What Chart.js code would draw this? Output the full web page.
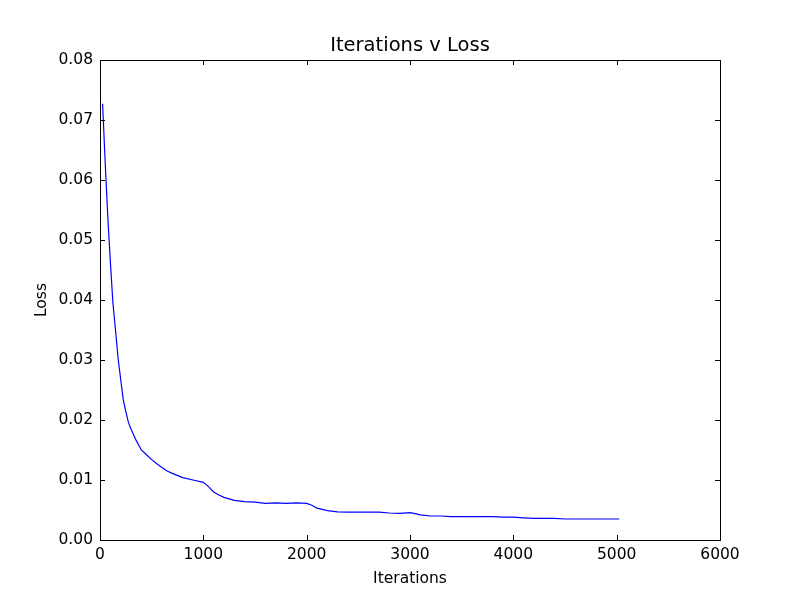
<!DOCTYPE html>
<html>
<head>
<meta charset="utf-8">
<script src="https://cdn.jsdelivr.net/npm/chart.js@4"></script>
<style>
  html, body { margin: 0; padding: 0; background: #fff; }
  #wrap { width: 800px; height: 600px; }
</style>
</head>
<body>
<div id="wrap"><canvas id="lossChart" width="800" height="600"></canvas></div>
<script>
const iterations = [25, 50, 75, 100, 125, 150, 175, 200, 225, 250, 275, 300, 350, 400, 450, 500, 550, 600, 650, 700, 800, 900,
    1000, 1050, 1100, 1150, 1200, 1300, 1400, 1500, 1600, 1700, 1800, 1900, 2000, 2050, 2100, 2200, 2300, 2400, 2500,
    2600, 2700, 2800, 2900, 3000, 3050, 3100, 3200, 3300, 3400, 3500, 3600, 3700, 3800, 3900, 4000, 4100, 4200, 4300,
    4400, 4500, 4600, 4700, 4800, 4900, 5025];
const loss = [0.0727, 0.063, 0.054, 0.0464, 0.0395, 0.035, 0.0303, 0.0268, 0.0234, 0.0214, 0.0196, 0.0185, 0.0166, 0.0150,
    0.0142, 0.0134, 0.0127, 0.0121, 0.0115, 0.0111, 0.0104, 0.0100, 0.0096, 0.0089, 0.0080, 0.0075, 0.0071, 0.0066, 0.0064,
    0.0063, 0.0061, 0.0062, 0.0061, 0.0062, 0.0061, 0.0058, 0.0053, 0.0049, 0.0047, 0.00465, 0.00467, 0.00465, 0.00465,
    0.0045, 0.00445, 0.00456, 0.0044, 0.0042, 0.0040, 0.0040, 0.0039, 0.0039, 0.0039, 0.0039, 0.0039, 0.0038, 0.0038,
    0.0037, 0.0036, 0.0036, 0.0036, 0.0035, 0.0035, 0.0035, 0.0035, 0.0035, 0.0035];
const xTicks = [0, 1000, 2000, 3000, 4000, 5000, 6000];
const yTicks = [0.00, 0.01, 0.02, 0.03, 0.04, 0.05, 0.06, 0.07, 0.08];

const FONT = 'DejaVu Sans';

// matplotlib-style frame with inward ticks on all four sides, plus title
const framePlugin = {
    id: 'frame',
    afterDraw(chart) {
        const { ctx, chartArea: a, scales } = chart;
        ctx.save();
        ctx.strokeStyle = '#000';
        ctx.lineWidth = 1;
        ctx.beginPath();
        xTicks.forEach(v => {
            const px = Math.round(scales.x.getPixelForValue(v)) + 0.5;
            ctx.moveTo(px, a.bottom); ctx.lineTo(px, a.bottom - 5);
            ctx.moveTo(px, a.top); ctx.lineTo(px, a.top + 5);
        });
        yTicks.forEach(v => {
            const py = Math.round(scales.y.getPixelForValue(v)) + 0.5;
            ctx.moveTo(a.left, py); ctx.lineTo(a.left + 5, py);
            ctx.moveTo(a.right, py); ctx.lineTo(a.right - 5, py);
        });
        ctx.stroke();
        ctx.strokeRect(a.left + 0.5, a.top + 0.5, a.right - a.left, a.bottom - a.top);

        ctx.fillStyle = '#000';
        ctx.font = '19.5px "' + FONT + '"';
        ctx.textAlign = 'center';
        ctx.textBaseline = 'middle';
        ctx.fillText('Iterations v Loss', (a.left + a.right) / 2, 46);
        ctx.restore();
    }
};

new Chart(document.getElementById('lossChart'), {
    type: 'line',
    data: {
        datasets: [{
            data: iterations.map((it, i) => ({ x: it, y: loss[i] })),
            borderColor: '#0000ff',
            borderWidth: 1.2,
            pointRadius: 0,
            tension: 0,
            fill: false
        }]
    },
    options: {
        responsive: false,
        animation: false,
        layout: { padding: { top: 60, right: 80, left: 0, bottom: 0 } },
        plugins: {
            legend: { display: false },
            tooltip: { enabled: false }
        },
        scales: {
            x: {
                type: 'linear',
                min: 0,
                max: 6000,
                afterFit(scale) { scale.height = 60; },
                afterBuildTicks(scale) { scale.ticks = xTicks.map(v => ({ value: v })); },
                grid: { display: false, drawTicks: false },
                border: { display: false },
                ticks: {
                    color: '#000',
                    padding: 6,
                    maxRotation: 0,
                    font: { family: FONT, size: 15.5 },
                    callback: v => String(v)
                },
                title: {
                    display: true,
                    text: 'Iterations',
                    color: '#000',
                    padding: { top: 12, bottom: 12 },
                    font: { family: FONT, size: 15.5 }
                }
            },
            y: {
                type: 'linear',
                min: 0,
                max: 0.08,
                afterFit(scale) { scale.width = 100; },
                afterBuildTicks(scale) { scale.ticks = yTicks.map(v => ({ value: v })); },
                grid: { display: false, drawTicks: false },
                border: { display: false },
                ticks: {
                    color: '#000',
                    padding: 7,
                    font: { family: FONT, size: 15.5 },
                    callback: v => v.toFixed(2)
                },
                title: {
                    display: true,
                    text: 'Loss',
                    color: '#000',
                    padding: { top: 33, bottom: 33 },
                    font: { family: FONT, size: 15.5 }
                }
            }
        }
    },
    plugins: [framePlugin]
});
</script>
</body>
</html>
